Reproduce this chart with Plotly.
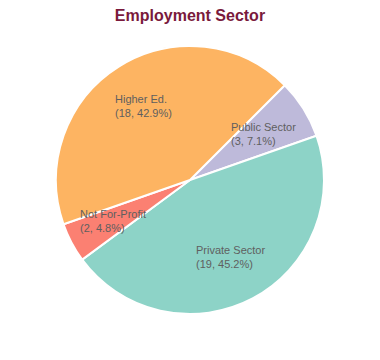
import math
import plotly.graph_objects as go

labels = ["Public Sector", "Private Sector", "Not For-Profit", "Higher Ed."]
values = [3, 19, 2, 18]
colors = ["#BEBADA", "#8DD3C7", "#FB8072", "#FDB462"]
title_text = "Employment Sector"

rotation = 45
label_radius = 0.65

total = sum(values)
fig = go.Figure(go.Pie(
    labels=labels, values=values, sort=False, direction="clockwise",
    rotation=rotation, textinfo="none", hoverinfo="label+value+percent",
    marker=dict(colors=colors, line=dict(color="white", width=2)),
    showlegend=False, domain=dict(x=[0, 1], y=[0, 1]),
))

cum = 0
for lab, v in zip(labels, values):
    mid = rotation + 360 * (cum + v / 2) / total
    cum += v
    a = math.radians(mid)
    x = 0.5 + 0.5 * label_radius * math.sin(a)
    y = 0.5 + 0.5 * label_radius * math.cos(a)
    pct = 100 * v / total
    fig.add_annotation(
        x=x, y=y, xref="paper", yref="paper", xanchor="center", yanchor="middle",
        align="left", showarrow=False,
        text=f"{lab}<br>({v}, {pct:.1f}%)",
        font=dict(family="Liberation Sans, Arial, sans-serif", size=11, color="#5f5f5f"),
    )

fig.update_layout(
    width=372, height=352,
    margin=dict(l=48, r=56, t=38, b=46),
    paper_bgcolor="white", plot_bgcolor="white",
    title=dict(text=f"<b>{title_text}</b>", x=182 / 372, xanchor="center", y=1 - 7.5 / 352,
               yanchor="middle", yref="container",
               font=dict(family="Liberation Sans, Arial, sans-serif", size=16, color="#7A1A3C")),
)

fig.write_html("out.html")
